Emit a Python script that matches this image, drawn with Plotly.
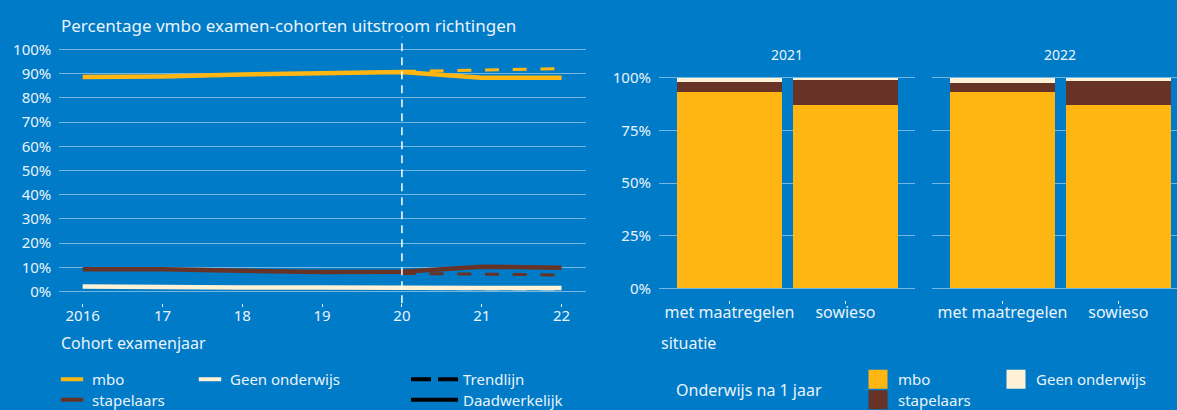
import plotly.graph_objects as go

# ---------------- data ----------------
years = [2016, 2017, 2018, 2019, 2020, 2021, 2022]
year_labels = ["2016", "17", "18", "19", "20", "21", "22"]
mbo_actual = [88.6, 88.8, 89.6, 90.3, 90.6, 88.3, 88.3]
stap_actual = [9.2, 9.2, 8.6, 8.1, 8.2, 10.3, 9.9]
geen_actual = [2.1, 1.8, 1.7, 1.7, 1.4, 1.5, 1.5]

trend_years = [2020, 2021, 2022]
mbo_trend = [90.9, 91.5, 92.0]
stap_trend = [7.5, 7.2, 6.9]
geen_trend = [1.3, 1.0, 0.8]

y_left_ticks = [0, 10, 20, 30, 40, 50, 60, 70, 80, 90, 100]
y_left_labels = [f"{v}%" for v in y_left_ticks]

situaties = ["met maatregelen", "sowieso"]
bar_mbo_2021 = [93.0, 86.9]
bar_stap_2021 = [4.8, 11.8]
bar_geen_2021 = [2.2, 1.3]
bar_mbo_2022 = [93.0, 86.9]
bar_stap_2022 = [4.3, 11.4]
bar_geen_2022 = [2.7, 1.7]

y_right_ticks = [0, 25, 50, 75, 100]
y_right_labels = [f"{v}%" for v in y_right_ticks]

# ---------------- style ----------------
W, H = 1177, 410
BG = "#007BC7"
GOLD = "#FFB612"
BROWN = "#673327"
CREAM = "#FFF1D6"
TXT = "#EAF3FB"
GRID = "rgba(255,255,255,0.45)"
FONT = "Noto Sans"


def px(x):
    return x / W


def py(y):
    return 1 - y / H


fig = go.Figure()

# trend (dashed) lines first
for vals, col, w in [(mbo_trend, GOLD, 3), (stap_trend, BROWN, 3),
                     (geen_trend, "rgba(255,241,214,0.35)", 3)]:
    fig.add_trace(go.Scatter(x=trend_years, y=vals, mode="lines",
                             line=dict(color=col, width=w, dash="14px,13.7px"),
                             showlegend=False, hoverinfo="skip",
                             xaxis="x", yaxis="y"))
# actual lines
for vals, col, w in [(geen_actual, CREAM, 4.5), (stap_actual, BROWN, 4.5),
                     (mbo_actual, GOLD, 4.5)]:
    fig.add_trace(go.Scatter(x=years, y=vals, mode="lines",
                             line=dict(color=col, width=w),
                             showlegend=False, xaxis="x", yaxis="y"))

# stacked bars
for xa, ya, m, s, g in [("x2", "y2", bar_mbo_2021, bar_stap_2021, bar_geen_2021),
                        ("x3", "y3", bar_mbo_2022, bar_stap_2022, bar_geen_2022)]:
    for vals, col in [(m, GOLD), (s, BROWN), (g, CREAM)]:
        fig.add_trace(go.Bar(x=situaties, y=vals, marker=dict(color=col, line=dict(width=0)),
                             width=0.906, showlegend=False, xaxis=xa, yaxis=ya))

# legend entries (one legend box per entry so rows can be placed precisely)
def leg_line_marker(name, col, legend):
    fig.add_trace(go.Scatter(x=[None], y=[None], mode="markers", name=name,
                             marker=dict(symbol="line-ew", size=16, color=col,
                                         line=dict(color=col, width=4)),
                             legend=legend, xaxis="x", yaxis="y"))


def leg_square(name, col, legend):
    fig.add_trace(go.Scatter(x=[None], y=[None], mode="markers", name=name,
                             marker=dict(symbol="square", size=16, color=col,
                                         line=dict(color=col, width=3)),
                             legend=legend, xaxis="x", yaxis="y"))


leg_line_marker("mbo", GOLD, "legend")
leg_line_marker("stapelaars", BROWN, "legend2")
leg_line_marker("Geen onderwijs", CREAM, "legend3")
fig.add_trace(go.Scatter(x=[None], y=[None], mode="lines", name="Trendlijn",
                         line=dict(color="black", width=4, dash="20px,7px"),
                         legend="legend4", xaxis="x", yaxis="y"))
fig.add_trace(go.Scatter(x=[None], y=[None], mode="lines", name="Daadwerkelijk",
                         line=dict(color="black", width=4),
                         legend="legend5", xaxis="x", yaxis="y"))
leg_square("mbo", GOLD, "legend6")
leg_square("stapelaars", BROWN, "legend7")
leg_square("Geen onderwijs", CREAM, "legend8")

legend_common = dict(bgcolor="rgba(0,0,0,0)", font=dict(family=FONT, size=15, color=TXT),
                     xanchor="left", yanchor="top", orientation="v", traceorder="normal",
                     itemclick=False, itemdoubleclick=False, tracegroupgap=0)

ROW1 = 363
ROW2 = 383.5
fig.update_layout(
    width=W, height=H, autosize=False,
    margin=dict(l=0, r=0, t=0, b=0, autoexpand=False),
    paper_bgcolor=BG, plot_bgcolor=BG,
    barmode="stack",
    font=dict(family=FONT, size=15, color=TXT),
    showlegend=True,
    legend=dict(x=px(52), y=py(ROW1), **legend_common),
    legend2=dict(x=px(52), y=py(ROW2), **legend_common),
    legend3=dict(x=px(190), y=py(ROW1), **legend_common),
    legend4=dict(x=px(406), y=py(ROW1), itemwidth=47, **legend_common),
    legend5=dict(x=px(406), y=py(ROW2), itemwidth=47, **legend_common),
    legend6=dict(x=px(858), y=py(ROW1), **legend_common),
    legend7=dict(x=px(858), y=py(ROW2), **legend_common),
    legend8=dict(x=px(996), y=py(ROW1), **legend_common),
    xaxis=dict(domain=[px(59.3), px(585.5)], range=[2015.707, 2022.30], anchor="y",
               tickmode="array", tickvals=years, ticktext=year_labels,
               ticks="outside", ticklen=3, tickwidth=1, tickcolor=TXT,
               showgrid=False, zeroline=False, showline=False, ticklabelstandoff=-4,
               tickfont=dict(size=15, color=TXT)),
    yaxis=dict(domain=[py(303.3), py(36.7)], range=[-4.8, 105.2], anchor="x",
               tickmode="array", tickvals=y_left_ticks, ticktext=y_left_labels,
               showgrid=True, gridcolor=GRID, gridwidth=1.3, zeroline=False,
               showline=False, ticks="", ticklabelstandoff=7,
               tickfont=dict(size=15, color=TXT)),
    xaxis2=dict(domain=[px(659), px(915)], range=[-0.608, 1.60], anchor="y2",
                type="category", ticks="outside", ticklen=3, tickcolor=TXT,
                showgrid=False, zeroline=False, showline=False, ticklabelstandoff=-5,
                tickfont=dict(size=16, color=TXT)),
    yaxis2=dict(domain=[py(299.9), py(73.5)], range=[-5.5, 102], anchor="x2",
                tickmode="array", tickvals=y_right_ticks, ticktext=y_right_labels,
                showgrid=True, gridcolor=GRID, gridwidth=1.3, zeroline=False,
                showline=False, ticks="", ticklabelstandoff=7,
                tickfont=dict(size=15, color=TXT)),
    xaxis3=dict(domain=[px(932.3), 1.0], range=[-0.606, 1.506], anchor="y3",
                type="category", ticks="outside", ticklen=3, tickcolor=TXT,
                showgrid=False, zeroline=False, showline=False, ticklabelstandoff=-5,
                tickfont=dict(size=16, color=TXT)),
    yaxis3=dict(domain=[py(299.9), py(73.5)], range=[-5.5, 102], anchor="x3",
                tickmode="array", tickvals=y_right_ticks,
                showgrid=True, gridcolor=GRID, gridwidth=1.3, zeroline=False,
                showline=False, ticks="", showticklabels=False),
)

# vertical dashed separator at 2020
fig.add_shape(type="line", xref="x", yref="y domain", x0=2020, x1=2020, y0=0, y1=1,
              line=dict(color="white", width=1.5, dash="8px,6px"))

ann_font = dict(family=FONT, size=16, color=TXT)
annotations = [
    dict(text="Percentage vmbo examen-cohorten uitstroom richtingen", x=px(59), y=py(25),
         xanchor="left", yanchor="middle", font=dict(family=FONT, size=17, color=TXT)),
    dict(text="Cohort examenjaar", x=px(59), y=py(343), xanchor="left", yanchor="middle",
         font=ann_font),
    dict(text="situatie", x=px(659), y=py(343), xanchor="left", yanchor="middle",
         font=ann_font),
    dict(text="Onderwijs na 1 jaar", x=px(674), y=py(390), xanchor="left", yanchor="middle",
         font=ann_font),
    dict(text="2021", x=px(787), y=py(54), xanchor="center", yanchor="middle",
         font=dict(family=FONT, size=14, color=TXT)),
    dict(text="2022", x=px(1060), y=py(54), xanchor="center", yanchor="middle",
         font=dict(family=FONT, size=14, color=TXT)),
]
for a in annotations:
    a.update(xref="paper", yref="paper", showarrow=False)
fig.update_layout(annotations=annotations)

fig.write_html("out.html", config={"displayModeBar": False},
               post_script="document.body.style.margin='0';"
                           "document.body.style.background='" + BG + "';")
